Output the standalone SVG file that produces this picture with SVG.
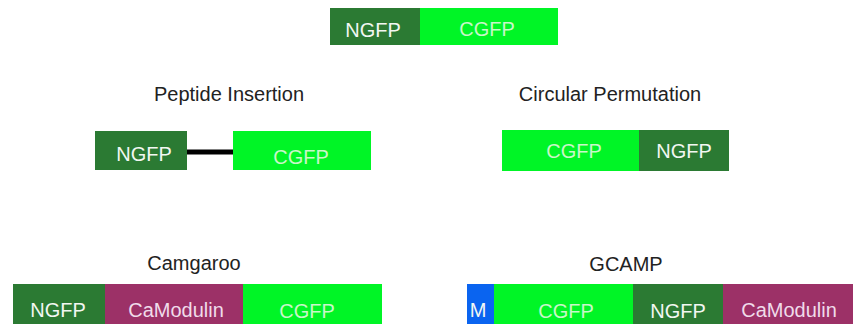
<svg xmlns="http://www.w3.org/2000/svg" width="853" height="324" viewBox="0 0 853 324">
<style>
.n{fill:#2b7a33}
.c{fill:#00f526}
.m{fill:#9c3167}
.b{fill:#0a64f0}
.t{font-family:"Liberation Sans",Arial,sans-serif;font-size:20px;text-anchor:middle}
.tw{fill:#f2f7f2}
.tg{fill:#c9f7c9}
.tm{fill:#f0dcea}
.lab{font-family:"Liberation Sans",Arial,sans-serif;font-size:20px;text-anchor:middle;fill:#222}
</style>
<rect width="853" height="324" fill="#fff"/>
<g id="top">
<rect class="n" x="330" y="8" width="90" height="37"/>
<rect class="c" x="420" y="8" width="138" height="37"/>
<text class="t tw" x="373" y="37">NGFP</text>
<text class="t tg" x="487" y="36">CGFP</text>
</g>
<g id="peptide">
<text class="lab" x="229" y="101">Peptide Insertion</text>
<rect class="n" x="95" y="131" width="92" height="39"/>
<rect class="c" x="233" y="131" width="138" height="39"/>
<text class="t tw" x="144" y="161">NGFP</text>
<text class="t tg" x="301" y="164">CGFP</text>
</g>
<g id="circular">
<text class="lab" x="610" y="101">Circular Permutation</text>
<rect class="c" x="502" y="130" width="137" height="41"/>
<rect class="n" x="639" y="130" width="90" height="41"/>
<text class="t tg" x="574" y="158">CGFP</text>
<text class="t tw" x="684" y="158">NGFP</text>
</g>
<g id="camgaroo">
<text class="lab" x="194" y="270">Camgaroo</text>
<rect class="n" x="13" y="284" width="92" height="40"/>
<rect class="m" x="105" y="284" width="138" height="40"/>
<rect class="c" x="243" y="284" width="139" height="40"/>
<text class="t tw" x="58" y="317">NGFP</text>
<text class="t tm" x="176" y="317">CaModulin</text>
<text class="t tg" x="307" y="318">CGFP</text>
</g>
<g id="gcamp">
<text class="lab" x="626" y="271">GCAMP</text>
<rect class="b" x="467" y="284" width="27" height="40"/>
<rect class="c" x="494" y="284" width="139" height="40"/>
<rect class="n" x="633" y="284" width="90" height="40"/>
<rect class="m" x="723" y="284" width="130" height="40"/>
<text class="t tw" x="478" y="317">M</text>
<text class="t tg" x="566" y="318">CGFP</text>
<text class="t tw" x="678" y="318">NGFP</text>
<text class="t tm" x="789" y="317">CaModulin</text>
</g>
<g id="connectors">
<line x1="187" y1="152" x2="233" y2="152" stroke="#000" stroke-width="5"/>
</g>
</svg>
